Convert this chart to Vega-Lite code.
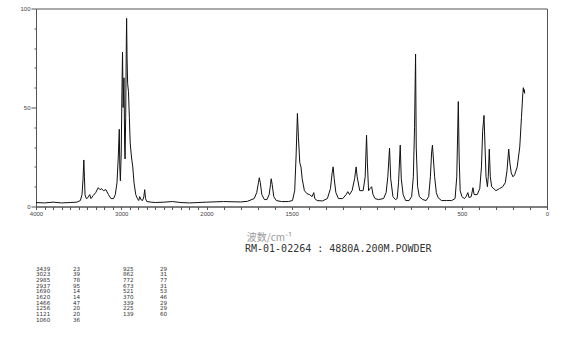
{
  "$schema": "https://vega.github.io/schema/vega-lite/v6.json",
  "background": "white",
  "padding": {"left": 19, "top": 4.5, "right": 0, "bottom": 0},
  "autosize": {"type": "pad"},
  "bounds": "flush",
  "spacing": 52,
  "config": {
    "axis": {"grid": false, "domainColor": "#555", "tickColor": "#555", "labelFont": "Liberation Sans", "labelFontSize": 6, "labelColor": "#444"}
  },
  "vconcat": [
    {
      "width": 511,
      "height": 198,
      "view": {"stroke": "#555", "strokeWidth": 1},
      "data": {"values": [
        {"wn": 4000, "i": 2}, {"wn": 3900, "i": 1.8}, {"wn": 3800, "i": 2.2}, {"wn": 3700, "i": 1.8}, {"wn": 3600, "i": 2},
        {"wn": 3520, "i": 2.2}, {"wn": 3480, "i": 3}, {"wn": 3460, "i": 6}, {"wn": 3448, "i": 14}, {"wn": 3439, "i": 23.5},
        {"wn": 3432, "i": 15}, {"wn": 3425, "i": 6}, {"wn": 3410, "i": 4}, {"wn": 3390, "i": 4.5}, {"wn": 3370, "i": 6},
        {"wn": 3355, "i": 4}, {"wn": 3330, "i": 5.5}, {"wn": 3300, "i": 7}, {"wn": 3270, "i": 9.5}, {"wn": 3250, "i": 8.5},
        {"wn": 3230, "i": 9}, {"wn": 3210, "i": 8}, {"wn": 3180, "i": 8.5}, {"wn": 3150, "i": 6}, {"wn": 3120, "i": 4},
        {"wn": 3090, "i": 4}, {"wn": 3070, "i": 6}, {"wn": 3050, "i": 12}, {"wn": 3035, "i": 25}, {"wn": 3023, "i": 39},
        {"wn": 3017, "i": 20}, {"wn": 3010, "i": 13}, {"wn": 3000, "i": 28}, {"wn": 2992, "i": 58}, {"wn": 2985, "i": 78},
        {"wn": 2978, "i": 50}, {"wn": 2968, "i": 65}, {"wn": 2960, "i": 30}, {"wn": 2955, "i": 24}, {"wn": 2948, "i": 45},
        {"wn": 2940, "i": 85}, {"wn": 2937, "i": 95}, {"wn": 2932, "i": 75}, {"wn": 2925, "i": 62}, {"wn": 2915, "i": 58},
        {"wn": 2905, "i": 45}, {"wn": 2895, "i": 32}, {"wn": 2880, "i": 25}, {"wn": 2865, "i": 20}, {"wn": 2850, "i": 12},
        {"wn": 2830, "i": 6}, {"wn": 2810, "i": 4}, {"wn": 2795, "i": 3}, {"wn": 2783, "i": 5}, {"wn": 2770, "i": 3.5},
        {"wn": 2750, "i": 3}, {"wn": 2735, "i": 5}, {"wn": 2725, "i": 8.5}, {"wn": 2715, "i": 4}, {"wn": 2700, "i": 2.5},
        {"wn": 2650, "i": 2.2}, {"wn": 2600, "i": 2}, {"wn": 2500, "i": 2.2}, {"wn": 2400, "i": 2.5}, {"wn": 2300, "i": 2},
        {"wn": 2200, "i": 1.8}, {"wn": 2100, "i": 2}, {"wn": 2000, "i": 2.2}, {"wn": 1900, "i": 2.5}, {"wn": 1800, "i": 2.3},
        {"wn": 1760, "i": 2.6}, {"wn": 1720, "i": 4}, {"wn": 1705, "i": 7}, {"wn": 1695, "i": 12}, {"wn": 1690, "i": 14.5},
        {"wn": 1684, "i": 12}, {"wn": 1675, "i": 6}, {"wn": 1660, "i": 3.5}, {"wn": 1645, "i": 3.5}, {"wn": 1632, "i": 6},
        {"wn": 1624, "i": 11}, {"wn": 1620, "i": 14}, {"wn": 1614, "i": 11}, {"wn": 1605, "i": 5}, {"wn": 1590, "i": 3},
        {"wn": 1560, "i": 2.5}, {"wn": 1520, "i": 2.5}, {"wn": 1495, "i": 3}, {"wn": 1482, "i": 8}, {"wn": 1474, "i": 25},
        {"wn": 1466, "i": 47}, {"wn": 1460, "i": 35}, {"wn": 1452, "i": 22}, {"wn": 1445, "i": 20}, {"wn": 1438, "i": 14},
        {"wn": 1425, "i": 8}, {"wn": 1410, "i": 6.5}, {"wn": 1395, "i": 6}, {"wn": 1380, "i": 5}, {"wn": 1370, "i": 7},
        {"wn": 1364, "i": 4}, {"wn": 1350, "i": 3}, {"wn": 1320, "i": 2.8}, {"wn": 1290, "i": 4}, {"wn": 1272, "i": 9},
        {"wn": 1262, "i": 17}, {"wn": 1256, "i": 20}, {"wn": 1250, "i": 14}, {"wn": 1240, "i": 7}, {"wn": 1225, "i": 4},
        {"wn": 1200, "i": 4}, {"wn": 1180, "i": 6}, {"wn": 1170, "i": 7.5}, {"wn": 1160, "i": 6}, {"wn": 1145, "i": 8},
        {"wn": 1130, "i": 14}, {"wn": 1121, "i": 20}, {"wn": 1115, "i": 15}, {"wn": 1100, "i": 8}, {"wn": 1080, "i": 8},
        {"wn": 1068, "i": 15}, {"wn": 1060, "i": 36}, {"wn": 1055, "i": 22}, {"wn": 1048, "i": 8}, {"wn": 1040, "i": 9},
        {"wn": 1030, "i": 10}, {"wn": 1022, "i": 6}, {"wn": 1010, "i": 4}, {"wn": 990, "i": 3.5}, {"wn": 960, "i": 4},
        {"wn": 945, "i": 7}, {"wn": 935, "i": 15}, {"wn": 925, "i": 29.5}, {"wn": 918, "i": 14}, {"wn": 905, "i": 5},
        {"wn": 890, "i": 3.5}, {"wn": 880, "i": 4}, {"wn": 872, "i": 12}, {"wn": 862, "i": 31}, {"wn": 856, "i": 14},
        {"wn": 845, "i": 6}, {"wn": 830, "i": 3}, {"wn": 810, "i": 3}, {"wn": 795, "i": 5}, {"wn": 785, "i": 15},
        {"wn": 778, "i": 40}, {"wn": 772, "i": 77}, {"wn": 768, "i": 30}, {"wn": 760, "i": 10}, {"wn": 750, "i": 5},
        {"wn": 730, "i": 3.5}, {"wn": 710, "i": 3}, {"wn": 695, "i": 5}, {"wn": 685, "i": 15}, {"wn": 678, "i": 27},
        {"wn": 673, "i": 31}, {"wn": 668, "i": 25}, {"wn": 660, "i": 15}, {"wn": 650, "i": 7}, {"wn": 640, "i": 4.5},
        {"wn": 620, "i": 3}, {"wn": 590, "i": 3}, {"wn": 560, "i": 3}, {"wn": 540, "i": 4}, {"wn": 530, "i": 15},
        {"wn": 521, "i": 53}, {"wn": 516, "i": 25}, {"wn": 510, "i": 8}, {"wn": 500, "i": 5}, {"wn": 485, "i": 4},
        {"wn": 475, "i": 5}, {"wn": 465, "i": 7}, {"wn": 458, "i": 4.5}, {"wn": 445, "i": 5}, {"wn": 435, "i": 9.5},
        {"wn": 428, "i": 6}, {"wn": 410, "i": 6}, {"wn": 395, "i": 9}, {"wn": 385, "i": 20}, {"wn": 378, "i": 38},
        {"wn": 370, "i": 46}, {"wn": 364, "i": 30}, {"wn": 358, "i": 15}, {"wn": 350, "i": 10}, {"wn": 345, "i": 15},
        {"wn": 339, "i": 29}, {"wn": 333, "i": 15}, {"wn": 325, "i": 10}, {"wn": 300, "i": 8}, {"wn": 280, "i": 9},
        {"wn": 260, "i": 10}, {"wn": 245, "i": 12}, {"wn": 235, "i": 18}, {"wn": 225, "i": 29}, {"wn": 218, "i": 22},
        {"wn": 210, "i": 17}, {"wn": 200, "i": 15}, {"wn": 190, "i": 16}, {"wn": 175, "i": 20}, {"wn": 160, "i": 30},
        {"wn": 150, "i": 45}, {"wn": 142, "i": 57}, {"wn": 139, "i": 60}, {"wn": 136, "i": 58}, {"wn": 133, "i": 59},
        {"wn": 131, "i": 57}
      ]},
      "mark": {"type": "line", "color": "#111", "strokeWidth": 1},
      "encoding": {
        "x": {
          "field": "wn", "type": "quantitative",
          "scale": {"domain": [4000, 2000, 0], "range": [0, 170.5, 511], "nice": false, "zero": false},
          "axis": {
            "values": [4000, 3900, 3800, 3700, 3600, 3500, 3400, 3300, 3200, 3100, 3000, 2900, 2800, 2700, 2600, 2500, 2400, 2300, 2200, 2100, 2000, 1900, 1800, 1700, 1600, 1500, 1400, 1300, 1200, 1100, 1000, 900, 800, 700, 600, 500, 400, 300, 200, 100, 0],
            "format": "d",
            "labelExpr": "indexof([4000,3000,2000,1500,500,0], datum.value) >= 0 ? datum.label : ''",
            "labelOverlap": false, "labelFlush": false, "labelPadding": 1,
            "tickSize": 3,
            "title": "波数/cm⁻¹", "titleFont": "Noto Sans CJK SC", "titleFontSize": 10, "titleFontWeight": "normal", "titleColor": "#999",
            "titleX": 233, "titlePadding": 16
          }
        },
        "y": {
          "field": "i", "type": "quantitative",
          "scale": {"domain": [0, 100], "nice": false},
          "axis": {
            "values": [0, 10, 20, 30, 40, 50, 60, 70, 80, 90, 100],
            "labelExpr": "datum.value % 50 === 0 ? datum.label : ''",
            "tickSize": {"condition": {"test": "datum.value % 50 === 0", "value": 5}, "value": 2},
            "labelPadding": 1,
            "title": null
          }
        }
      }
    },
    {
      "width": 511,
      "height": 65,
      "view": {"stroke": null},
      "title": {"text": "RM-01-02264 : 4880A.200M.POWDER", "anchor": "start", "dx": 209, "font": "DejaVu Sans Mono", "fontSize": 10, "fontWeight": "normal", "color": "#333", "offset": 5},
      "data": {"values": [
        {"row": 1, "col": 1, "text": "3439"}, {"row": 1, "col": 2, "text": "23"}, {"row": 1, "col": 3, "text": "925"}, {"row": 1, "col": 4, "text": "29"},
        {"row": 2, "col": 1, "text": "3023"}, {"row": 2, "col": 2, "text": "39"}, {"row": 2, "col": 3, "text": "862"}, {"row": 2, "col": 4, "text": "31"},
        {"row": 3, "col": 1, "text": "2985"}, {"row": 3, "col": 2, "text": "78"}, {"row": 3, "col": 3, "text": "772"}, {"row": 3, "col": 4, "text": "77"},
        {"row": 4, "col": 1, "text": "2937"}, {"row": 4, "col": 2, "text": "95"}, {"row": 4, "col": 3, "text": "673"}, {"row": 4, "col": 4, "text": "31"},
        {"row": 5, "col": 1, "text": "1690"}, {"row": 5, "col": 2, "text": "14"}, {"row": 5, "col": 3, "text": "521"}, {"row": 5, "col": 4, "text": "53"},
        {"row": 6, "col": 1, "text": "1620"}, {"row": 6, "col": 2, "text": "14"}, {"row": 6, "col": 3, "text": "370"}, {"row": 6, "col": 4, "text": "46"},
        {"row": 7, "col": 1, "text": "1466"}, {"row": 7, "col": 2, "text": "47"}, {"row": 7, "col": 3, "text": "339"}, {"row": 7, "col": 4, "text": "29"},
        {"row": 8, "col": 1, "text": "1256"}, {"row": 8, "col": 2, "text": "20"}, {"row": 8, "col": 3, "text": "225"}, {"row": 8, "col": 4, "text": "29"},
        {"row": 9, "col": 1, "text": "1121"}, {"row": 9, "col": 2, "text": "20"}, {"row": 9, "col": 3, "text": "139"}, {"row": 9, "col": 4, "text": "60"},
        {"row": 10, "col": 1, "text": "1060"}, {"row": 10, "col": 2, "text": "36"}
      ]},
      "mark": {"type": "text", "align": "left", "baseline": "middle", "font": "DejaVu Sans", "fontSize": 5.6, "color": "#333"},
      "encoding": {
        "x": {"field": "col", "type": "quantitative", "scale": {"domain": [1, 2, 3, 4], "range": [0, 37, 87, 124], "nice": false, "zero": false}, "axis": null},
        "y": {"field": "row", "type": "quantitative", "scale": {"domain": [1, 10], "range": [10, 61], "nice": false, "zero": false}, "axis": null},
        "text": {"field": "text"}
      }
    }
  ]
}
